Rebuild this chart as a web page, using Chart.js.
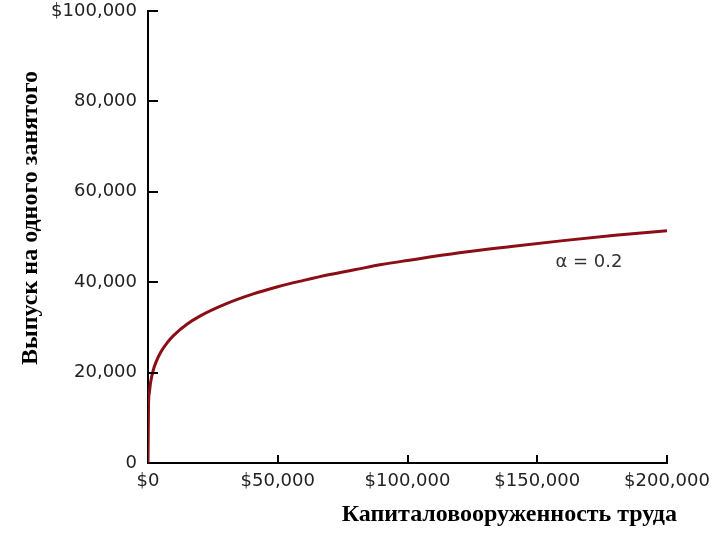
<!DOCTYPE html>
<html><head><meta charset="utf-8">
<script src="https://cdn.jsdelivr.net/npm/chart.js@4/dist/chart.umd.min.js"></script>
<style>html,body{margin:0;padding:0;background:#fff}#wrap{width:720px;height:540px}</style>
</head><body><div id="wrap"><canvas id="c" width="720" height="540"></canvas></div>
<script>
// Capital per worker (x) and output per worker (y)
const capitalPerWorker = [0, 200, 500, 1000, 2000, 3000, 5000, 7500, 10000, 15000, 20000, 30000, 40000, 50000, 60000, 70000, 80000, 90000, 100000, 120000, 140000, 160000, 180000, 200000];
const outputPerWorker  = [0, 12900, 15500, 17800, 20500, 22200, 24600, 26700, 28300, 30700, 32500, 35200, 37300, 39000, 40400, 41700, 42800, 43900, 44800, 46500, 47900, 49200, 50400, 51400];
const xTickValues = [0, 50000, 100000, 150000, 200000];
const xTickLabels = ["$0", "$50,000", "$100,000", "$150,000", "$200,000"];
const yTickValues = [0, 20000, 40000, 60000, 80000, 100000];
const yTickLabels = ["0", "20,000", "40,000", "60,000", "80,000", "$100,000"];
const xTitle = "Капиталовооруженность труда";
const yTitle = "Выпуск на одного занятого";
const curveLabel = "α = 0.2";

const points = capitalPerWorker.map((k, i) => ({x: k, y: outputPerWorker[i]}));

const extras = {
  id: 'extras',
  afterDraw(chart) {
    const ctx = chart.ctx, xs = chart.scales.x, ys = chart.scales.y;
    ctx.save();
    ctx.strokeStyle = '#000';
    ctx.lineWidth = 2;
    // inward tick marks
    yTickValues.forEach(v => {
      if (v === 0) return;
      const p = Math.round(ys.getPixelForValue(v));
      ctx.beginPath(); ctx.moveTo(xs.left, p); ctx.lineTo(xs.left + 10, p); ctx.stroke();
    });
    xTickValues.forEach(v => {
      if (v === 0) return;
      const p = Math.round(xs.getPixelForValue(v));
      ctx.beginPath(); ctx.moveTo(p, ys.bottom); ctx.lineTo(p, ys.bottom - 8); ctx.stroke();
    });
    // axis titles
    ctx.fillStyle = '#000';
    ctx.font = 'bold 24px "Liberation Serif", "DejaVu Serif", serif';
    ctx.textAlign = 'right'; ctx.textBaseline = 'middle';
    ctx.fillText(xTitle, 677, 515);
    ctx.save();
    ctx.translate(31, 218);
    ctx.rotate(-Math.PI / 2);
    ctx.textAlign = 'center';
    ctx.fillText(yTitle, 0, 0);
    ctx.restore();
    // curve label
    ctx.fillStyle = '#333';
    ctx.font = '18px "DejaVu Sans", sans-serif';
    ctx.textAlign = 'left';
    ctx.fillText(curveLabel, xs.getPixelForValue(157000), ys.getPixelForValue(44500));
    ctx.restore();
  }
};

new Chart(document.getElementById('c'), {
  type: 'scatter',
  data: { datasets: [{
    data: points, showLine: true, borderColor: '#8b0e16', borderWidth: 3,
    pointRadius: 0, tension: 0.3, cubicInterpolationMode: 'monotone'
  }]},
  options: {
    responsive: false, animation: false, devicePixelRatio: 1,
    layout: { padding: { top: 11, right: 53, left: 0, bottom: 0 } },
    plugins: { legend: { display: false }, tooltip: { enabled: false } },
    scales: {
      x: {
        type: 'linear', min: 0, max: 200000,
        afterFit(s) { s.height = 77; s.paddingLeft = 0; s.paddingRight = 0; },
        afterBuildTicks(s) { s.ticks = xTickValues.map(v => ({value: v})); },
        grid: { display: false },
        border: { display: true, color: '#000', width: 2 },
        ticks: { padding: 0, color: '#222', font: { family: '"DejaVu Sans", sans-serif', size: 18 },
          maxRotation: 0, autoSkip: false,
          callback: (v) => xTickLabels[xTickValues.indexOf(v)] }
      },
      y: {
        type: 'linear', min: 0, max: 100000,
        afterFit(s) { s.width = 148; s.paddingTop = 0; s.paddingBottom = 0; },
        afterBuildTicks(s) { s.ticks = yTickValues.map(v => ({value: v})); },
        grid: { display: false },
        border: { display: true, color: '#000', width: 2 },
        ticks: { padding: 3, color: '#222', font: { family: '"DejaVu Sans", sans-serif', size: 18 },
          autoSkip: false,
          callback: (v) => yTickLabels[yTickValues.indexOf(v)] }
      }
    }
  },
  plugins: [extras]
});
</script></body></html>
